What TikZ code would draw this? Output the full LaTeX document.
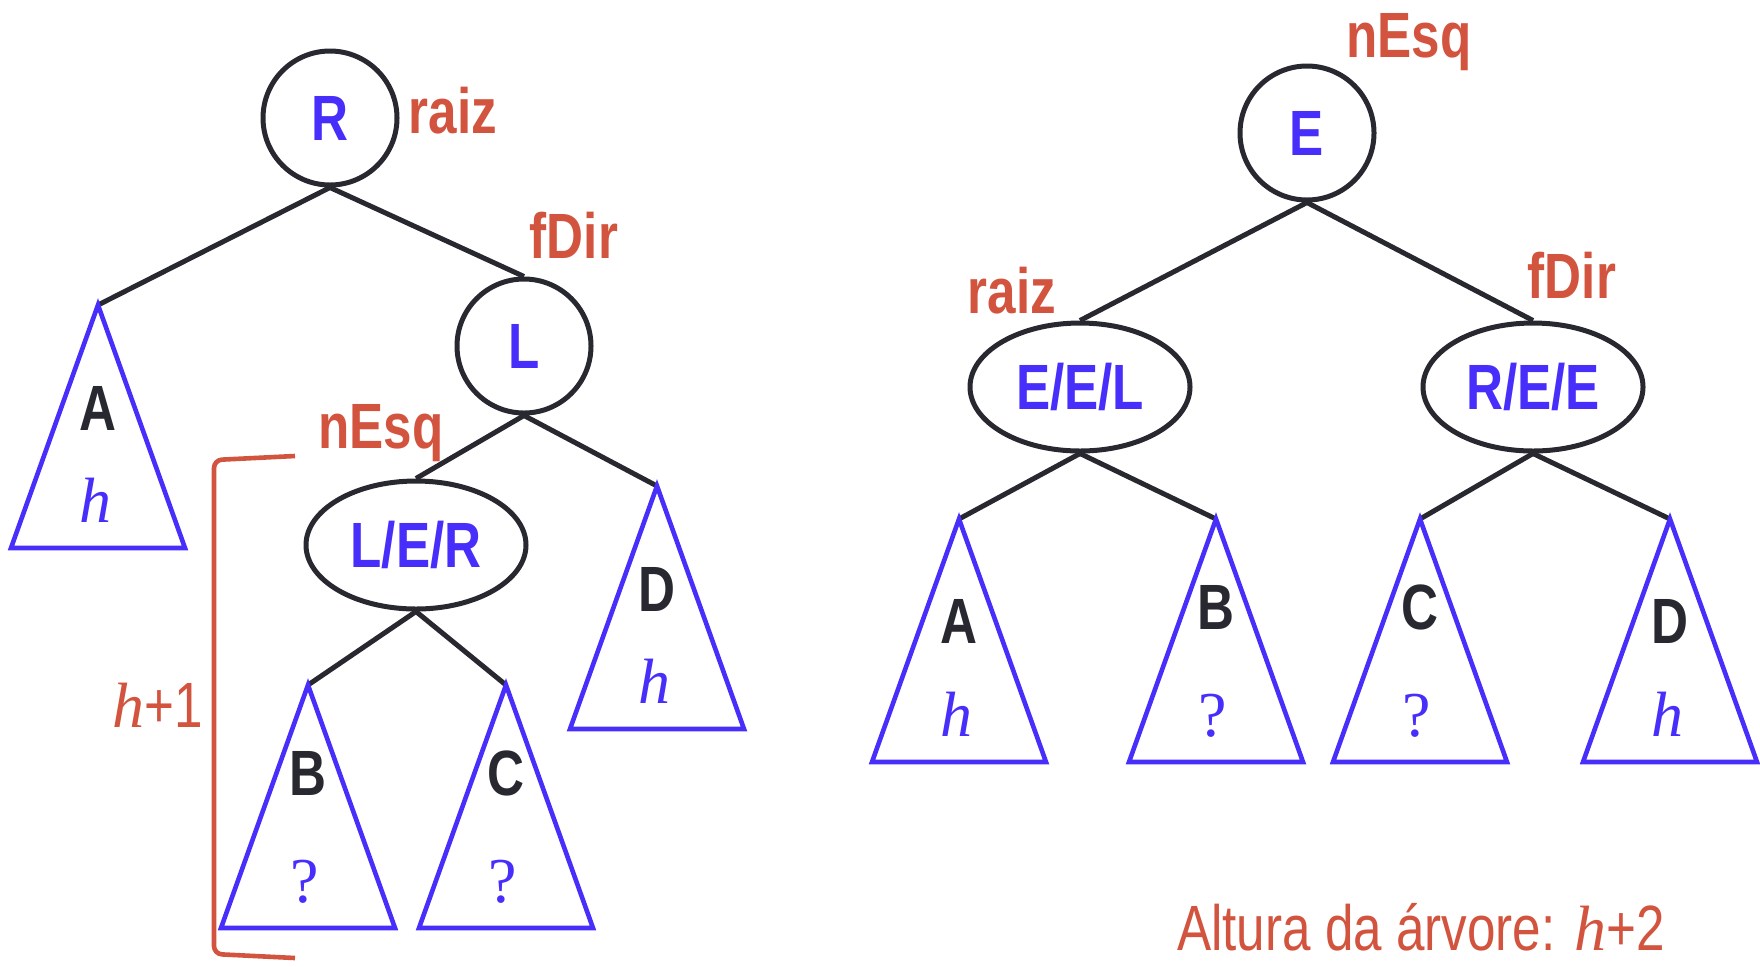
\documentclass[tikz,border=0pt]{standalone}
\usepackage{fontspec}
\setmainfont{Liberation Sans}
\newfontfamily\narrowsf[FakeStretch=0.8]{Liberation Sans}
\newfontfamily\timesf{Liberation Serif}
\usepackage{tikz}
\usetikzlibrary{shapes.geometric}
\definecolor{keyblue}{RGB}{72,46,250}
\definecolor{ptrred}{RGB}{210,84,62}
\definecolor{edgegray}{RGB}{40,40,48}
\tikzset{every picture/.style={line width=2.5pt}}
\tikzset{
	key/.style={circle,draw=edgegray,minimum size=67pt,inner sep=0pt,text=keyblue,
		font=\narrowsf\bfseries\fontsize{32}{36}\selectfont},
	triple/.style={ellipse,draw=edgegray,minimum width=110pt,minimum height=64pt,inner sep=0pt,
		text=keyblue,font=\narrowsf\bfseries\fontsize{32}{36}\selectfont},
	ptr/.style={text=ptrred,anchor=base,inner sep=0pt,font=\narrowsf\bfseries\fontsize{32}{36}\selectfont},
	note/.style={text=ptrred,anchor=base,inner sep=0pt,font=\narrowsf\fontsize{32}{36}\selectfont},
	subtree/.style={draw=keyblue,line width=2.3pt},
	subname/.style={text=edgegray,font=\narrowsf\bfseries\fontsize{32}{36}\selectfont},
	subheight/.style={text=keyblue,anchor=base,font=\timesf\fontsize{32}{36}\selectfont}
}
\newcommand{\hgt}{\textit{h}}

\begin{document}
\begin{tikzpicture}[x=0.5pt,y=-0.5pt]
\useasboundingbox (0,0) rectangle (1760,966);
% before the rotation
\node[key] (R) at (330,118) {R};
\node[key] (L) at (524,346) {L};
\node[triple] (LER) at (416,545) {L/E/R};
\coordinate (a) at (98,305);
\coordinate (d) at (657,486);
\coordinate (b) at (308,685);
\coordinate (c) at (506,685);
%
% after the rotation
\node[key] (E) at (1307,133) {E};
\node[triple] (EEL) at (1080,387) {E/E/L};
\node[triple] (REE) at (1533,387) {R/E/E};
\coordinate (a2) at (959,519);
\coordinate (b2) at (1216,519);
\coordinate (c2) at (1420,519);
\coordinate (d2) at (1670,519);
%
\foreach \Source/\Target in {%
	R.south/a,
	R.south/L.north,
	L.south/LER.north,
	L.south/d,
	LER.south/b,
	LER.south/c,
	E.south/EEL.north,
	E.south/REE.north,
	EEL.south/a2,
	EEL.south/b2,
	REE.south/c2,
	REE.south/d2%
    }
\draw[edgegray] (\Source) to (\Target);
%
% subtrees
\foreach \Apex/\Letter/\Dy/\Ht in {%
	a/A/103/\hgt, d/D/103/\hgt, b/B/88/?, c/C/88/?,
	a2/A/102/\hgt, b2/B/88/?, c2/C/88/?, d2/D/102/\hgt%
    }
{
\draw[subtree] (\Apex) -- ++(-87,243) -- ++(174,0) -- cycle;
\path (\Apex) ++(0,\Dy) node[subname] (n\Apex) {\Letter};
\path (\Apex) ++(-3,217) node[subheight] (h\Apex) {\Ht};
}
%
% pointers
\node[ptr] (raizL) at (453,133) {raiz};
\node[ptr] (fdirL) at (574,258) {fDir};
\node[ptr] (nesqL) at (381,448) {nEsq};
\node[ptr] (nesqR) at (1409,57) {nEsq};
\node[ptr] (raizR) at (1012,313) {raiz};
\node[ptr] (fdirR) at (1572,298) {fDir};
%
\draw[ptrred,line width=2.3pt,rounded corners=4pt] (295,456) -- (214,460) -- (214,954) -- (295,958);
\node[note] (alt1) at (158,727) {{\timesf\itshape h}+1};
\node[note] (alt2) at (1421,950) {Altura da árvore: {\timesf\itshape h}+2};
\end{tikzpicture}
\end{document}
